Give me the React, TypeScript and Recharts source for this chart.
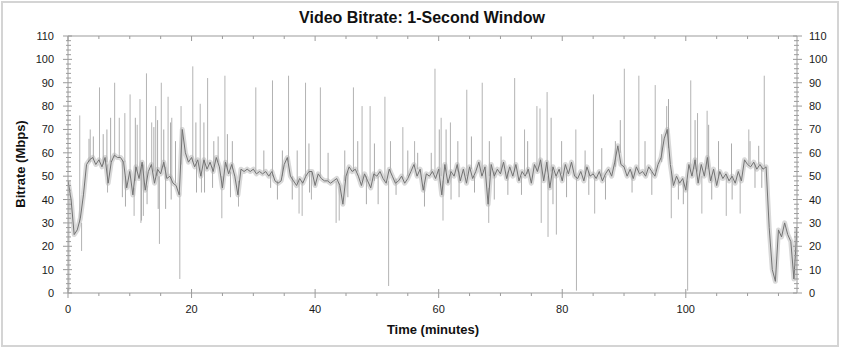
import React from 'react';
import { LineChart, Line, XAxis, YAxis } from 'recharts';

// Main bitrate trace, sampled every half minute starting at minute 0 (Mbps)
const sampleStep = 0.5;
const bitrateValues = [
  48, 40, 25, 27, 32, 42, 55, 57, 58, 55,
  57, 54, 58, 47, 56, 59, 58, 58, 56, 45,
  52, 42, 54, 49, 56, 44, 52, 55, 47, 53,
  51, 56, 49, 50, 47, 46, 42, 70, 60, 56,
  58, 54, 57, 50, 57, 53, 56, 52, 58, 54,
  45, 56, 51, 55, 50, 42, 53, 52, 53, 52,
  53, 51, 52, 51, 52, 50, 52, 48, 47, 48,
  55, 58, 50, 48, 46, 49, 47, 50, 52, 52,
  46, 51, 49, 48, 48, 47, 48, 49, 46, 38,
  50, 54, 52, 53, 50, 46, 51, 48, 45, 51,
  50, 52, 49, 47, 53, 50, 47, 48, 50, 47,
  49, 52, 55, 50, 53, 44, 51, 50, 52, 49,
  53, 42, 55, 47, 52, 50, 55, 48, 53, 47,
  54, 49, 52, 56, 50, 54, 38, 55, 50, 53,
  51, 56, 49, 54, 50, 55, 48, 52, 50, 53,
  47, 55, 52, 57, 48, 56, 45, 54, 50, 53,
  48, 55, 51, 56, 50, 49, 52, 48, 54, 50,
  51, 49, 52, 48, 51, 53, 50, 56, 63, 55,
  54, 50, 53, 49, 54, 51, 52, 50, 54, 52,
  50, 55, 58, 66, 70, 55, 46, 50, 47, 49,
  44, 55, 50, 57, 47, 55, 50, 58, 48, 53,
  46, 52, 49, 51, 48, 50, 47, 52, 48, 57,
  55, 54, 56, 53, 55, 53, 54, 28, 10, 5,
  27, 24, 30, 25, 22, 6,
  28,
];

// Large momentary spikes and dips: minute, level just before, extreme reached (Mbps)
const spikeTimes = [
  0.15, 1.9, 2.2, 3.6, 5.1, 6.4, 7.55, 8.3, 9.2, 10.05, 10.7, 11.2, 11.65, 11.8, 12.2, 12.7,
  13.55, 14.2, 14.8, 15.1, 16.2, 16.8, 18.1, 18.3, 20.2, 21.4, 21.6, 22.6, 24.9, 25.4, 27.6, 30.4,
  33.1, 35.7, 37.4, 37.9, 38.45, 39.4, 40.85, 43.4, 43.9, 46.2, 47.6, 48.9, 51.3, 51.9, 52.2, 54.2,
  56.1, 59.4, 60.4, 60.7, 61.9, 64.55, 67.05, 68.1, 72.3, 73.9, 75.9, 76.4, 76.6, 77.55, 77.7, 79.05,
  82.2, 82.3, 85.05, 85.25, 90.05, 92.4, 95.05, 96.9, 97.65, 100.3, 100.8, 101.9, 102.6, 103.45,
  106.55, 108.8, 110.2, 112.7,
];
const spikeBase = [
  40, 30, 30, 56, 56, 55, 58, 58, 56, 52, 45, 52, 50, 52, 55, 46,
  54, 50, 50, 52, 50, 49, 43, 55, 56, 52, 52, 55, 50, 54, 48, 52,
  50, 56, 48, 48, 50, 52, 50, 48, 47, 52, 48, 48, 48, 48, 52, 49,
  54, 51, 50, 48, 50, 50, 52, 45, 52, 51, 52, 54, 54, 52, 50, 50,
  50, 50, 51, 50, 54, 52, 52, 68, 52, 48, 52, 52, 50, 53,
  50, 50, 55, 54,
];
const spikePeak = [
  1, 76, 18, 70, 88, 43, 90, 75, 77, 85, 33, 72, 83, 30, 33, 94,
  73, 80, 21, 90, 84, 75, 6, 80, 97, 81, 43, 92, 32, 93, 37, 88,
  91, 93, 34, 33, 90, 40, 88, 30, 31, 88, 80, 80, 84, 3, 65, 71,
  65, 96, 75, 31, 73, 87, 90, 30, 92, 70, 80, 79, 30, 86, 24, 25,
  70, 1, 85, 34, 96, 93, 89, 80, 32, 1, 91, 77, 34, 78,
  33, 34, 70, 93,
];

// Smaller flickers around the main level: minute, level just before, extreme reached (Mbps)
const flickerTimes = [
  3.4, 4.1, 5.7, 6.3, 6.9, 8.8, 9.3, 10.9, 11.9, 12.8, 13.9, 14.5, 14.6, 15.5, 15.8, 16.6,
  16.7, 17.4, 20.7, 20.8, 22.0, 22.1, 23.4, 23.6, 24.3, 25.8, 26.3, 26.6, 31.7, 32.8, 33.9, 34.7,
  36.3, 37.1, 39.0, 39.1, 42.1, 44.8, 45.3, 46.9, 48.3, 49.6, 50.2, 53.1, 55.0, 56.6, 57.7, 58.8,
  60.1, 61.2, 62.0, 63.1, 63.3, 65.3, 65.8, 68.2, 69.0, 70.1, 71.2, 73.4, 74.4, 78.2, 78.5, 79.9,
  80.7, 83.7, 84.3, 86.4, 87.0, 88.6, 89.4, 91.3, 93.4, 94.5, 96.1, 97.2, 98.8, 99.6, 101.5, 103.7,
  104.2, 105.3, 107.4, 107.5, 110.4, 111.2, 111.8, 112.3,
];
const flickerBase = [
  56, 57, 55, 56, 56, 57, 50, 48, 54, 46, 52, 50, 50, 54, 54, 50,
  50, 47, 56, 56, 57, 57, 54, 54, 56, 53, 52, 53, 52, 51, 48, 50,
  50, 47, 52, 52, 48, 48, 52, 52, 50, 48, 50, 49, 50, 53, 46, 51,
  52, 52, 51, 52, 52, 53, 50, 50, 52, 52, 52, 50, 51, 52, 52, 51,
  52, 51, 52, 50, 50, 54, 60, 52, 51, 52, 56, 62, 48, 48, 53, 54,
  50, 50, 49, 49, 55, 55, 55, 54,
];
const flickerPeak = [
  66, 67, 68, 70, 75, 41, 37, 75, 31, 38, 71, 74, 36, 70, 36, 73,
  40, 65, 73, 43, 73, 43, 45, 65, 67, 68, 41, 65, 61, 45, 40, 61,
  40, 61, 64, 43, 60, 61, 41, 65, 38, 64, 38, 42, 61, 60, 37, 60,
  70, 70, 40, 65, 41, 67, 43, 65, 40, 67, 42, 42, 65, 75, 38, 65,
  41, 61, 42, 62, 40, 65, 74, 43, 65, 42, 68, 83, 40, 38, 74, 72,
  40, 65, 64, 40, 65, 45, 63, 45,
];

const yTicks = [
  0, 2, 4, 6, 8, 10, 12, 14, 16, 18, 20, 22, 24, 26, 28, 30, 32, 34, 36, 38, 40,
  42, 44, 46, 48, 50, 52, 54, 56, 58, 60, 62, 64, 66, 68, 70, 72, 74, 76, 78, 80,
  82, 84, 86, 88, 90, 92, 94, 96, 98, 100, 102, 104, 106, 108, 110,
];
const yLabelTicks = [0, 10, 20, 30, 40, 50, 60, 70, 80, 90, 100, 110];
const xTicks = [0, 5, 10, 15, 20, 25, 30, 35, 40, 45, 50, 55, 60, 65, 70, 75, 80, 85, 90, 95, 100, 105, 110, 115];
const xLabelTicks = [0, 20, 40, 60, 80, 100];

type Row = { t: number; v?: number; s?: number | null; f?: number | null };
const rows: Row[] = [];
bitrateValues.forEach((v, i) => rows.push({ t: i * sampleStep, v }));
spikeTimes.forEach((t, i) => {
  rows.push({ t, s: spikeBase[i] });
  rows.push({ t, s: spikePeak[i] });
  rows.push({ t: t + 0.001, s: null });
});
flickerTimes.forEach((t, i) => {
  rows.push({ t, f: flickerBase[i] });
  rows.push({ t, f: flickerPeak[i] });
  rows.push({ t: t + 0.001, f: null });
});
const data = rows
  .map((r, k) => ({ r, k }))
  .sort((a, b) => a.r.t - b.r.t || a.k - b.k)
  .map((x) => x.r);

const AXIS = '#9b9b9b';
const FONT = 'Arial, "Liberation Sans", sans-serif';
const LM = 14; // left tick margin
const RM = 12; // right tick margin
const BM = 12; // bottom tick margin

const LeftTick = (props: any) => {
  const { x, y, payload } = props;
  const ax = x + LM;
  const major = yLabelTicks.includes(payload.value);
  return (
    <g>
      <line x1={major ? ax - 5 : ax - 2} x2={major ? ax + 4 : ax + 3} y1={y} y2={y} stroke={AXIS} />
      {major && (
        <text x={x} y={y} dy="0.36em" textAnchor="end" fontSize={11} fontFamily={FONT} fill="#1a1a1a">
          {payload.value}
        </text>
      )}
    </g>
  );
};

const RightTick = (props: any) => {
  const { x, y, payload } = props;
  const ax = x - RM;
  const major = yLabelTicks.includes(payload.value);
  return (
    <g>
      <line x1={major ? ax - 4 : ax - 3} x2={major ? ax + 5 : ax + 2} y1={y} y2={y} stroke={AXIS} />
      {major && (
        <text x={x} y={y} dy="0.36em" textAnchor="start" fontSize={11} fontFamily={FONT} fill="#1a1a1a">
          {payload.value}
        </text>
      )}
    </g>
  );
};

const BottomTick = (props: any) => {
  const { x, y, payload } = props;
  const ay = y - BM;
  const major = xLabelTicks.includes(payload.value);
  return (
    <g>
      <line x1={x} x2={x} y1={major ? ay - 4 : ay} y2={major ? ay + 5 : ay + 3} stroke={AXIS} />
      {major && (
        <text x={x} y={y} dy="0.71em" textAnchor="middle" fontSize={11} fontFamily={FONT} fill="#1a1a1a">
          {payload.value}
        </text>
      )}
    </g>
  );
};

const TopTick = (props: any) => {
  const { x, y, payload } = props;
  const major = xLabelTicks.includes(payload.value);
  return <line x1={x} x2={x} y1={y} y2={y + (major ? 5 : 3)} stroke={AXIS} />;
};

export default function App() {
  return (
    <div style={{ position: 'relative', width: 844, height: 349, background: '#fff', fontFamily: FONT }}>
      <style>{`body{margin:0;background:#fff}`}</style>
      <div
        style={{
          position: 'absolute', left: 1, top: 1, width: 838, height: 346,
          boxSizing: 'border-box', border: '2px solid #d4d4d4', pointerEvents: 'none',
        }}
      />
      <div
        style={{
          position: 'absolute', left: 0, top: 10, width: 844, textAlign: 'center',
          fontSize: 16, fontWeight: 'bold', lineHeight: '16px', color: '#111',
        }}
      >
        Video Bitrate: 1-Second Window
      </div>
      <div
        style={{
          position: 'absolute', left: 21 - 70, top: 164 - 8, width: 140, height: 16, textAlign: 'center',
          fontSize: 13, fontWeight: 'bold', lineHeight: '16px', color: '#111', transform: 'rotate(-90deg)',
        }}
      >
        Bitrate (Mbps)
      </div>
      <div
        style={{
          position: 'absolute', left: 433 - 100, top: 322, width: 200, textAlign: 'center',
          fontSize: 13, fontWeight: 'bold', lineHeight: '16px', color: '#111',
        }}
      >
        Time (minutes)
      </div>
      <div style={{ position: 'absolute', left: 0, top: 0 }}>
        <LineChart width={844} height={349} data={data} margin={{ top: 35, right: 0, bottom: 26, left: 0 }}>
          <XAxis
            xAxisId="bottom"
            dataKey="t"
            type="number"
            domain={[0, 118]}
            ticks={xTicks}
            interval={0}
            height={30}
            tickSize={0}
            tickMargin={BM}
            tickLine={false}
            axisLine={{ stroke: AXIS }}
            tick={<BottomTick />}
            allowDataOverflow
          />
          <XAxis
            xAxisId="top"
            orientation="top"
            dataKey="t"
            type="number"
            domain={[0, 118]}
            ticks={xTicks}
            interval={0}
            height={1}
            tickSize={0}
            tickMargin={0}
            tickLine={false}
            axisLine={{ stroke: AXIS }}
            tick={<TopTick />}
            allowDataOverflow
          />
          <YAxis
            yAxisId="left"
            type="number"
            domain={[0, 110]}
            ticks={yTicks}
            interval={0}
            width={68}
            tickSize={0}
            tickMargin={LM}
            tickLine={false}
            axisLine={{ stroke: AXIS }}
            tick={<LeftTick />}
            allowDataOverflow
          />
          <YAxis
            yAxisId="right"
            orientation="right"
            type="number"
            domain={[0, 110]}
            ticks={yTicks}
            interval={0}
            width={47}
            tickSize={0}
            tickMargin={RM}
            tickLine={false}
            axisLine={{ stroke: AXIS }}
            tick={<RightTick />}
            allowDataOverflow
          />
          <Line
            xAxisId="bottom"
            yAxisId="left"
            dataKey="v"
            type="linear"
            stroke="#d9d9d9"
            strokeWidth={5}
            strokeLinejoin="round"
            dot={false}
            activeDot={false}
            connectNulls
            isAnimationActive={false}
          />
          <Line
            xAxisId="bottom"
            yAxisId="left"
            dataKey="f"
            type="linear"
            stroke="#ababab"
            strokeWidth={1}
            dot={false}
            activeDot={false}
            isAnimationActive={false}
          />
          <Line
            xAxisId="bottom"
            yAxisId="left"
            dataKey="s"
            type="linear"
            stroke="#b3b3b3"
            strokeWidth={1}
            dot={false}
            activeDot={false}
            isAnimationActive={false}
          />
          <Line
            xAxisId="bottom"
            yAxisId="left"
            dataKey="v"
            type="linear"
            stroke="#737373"
            strokeWidth={1}
            dot={false}
            activeDot={false}
            connectNulls
            isAnimationActive={false}
          />
        </LineChart>
      </div>
    </div>
  );
}
